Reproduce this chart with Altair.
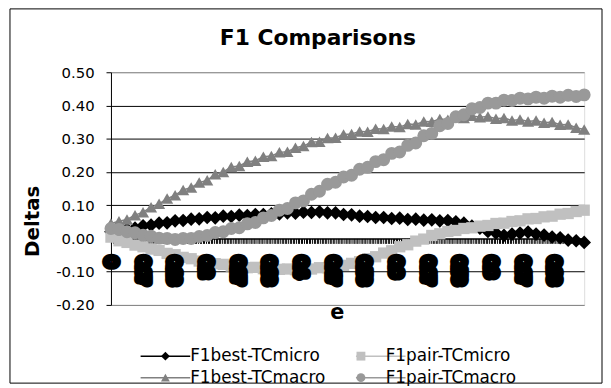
import altair as alt
import numpy as np
import pandas as pd

# ---------------- data ----------------
series_names = ["F1best-TCmicro", "F1pair-TCmicro", "F1best-TCmacro", "F1pair-TCmacro"]

best_micro = [0.020, 0.023, 0.028, 0.031, 0.038, 0.040, 0.046, 0.047, 0.053, 0.054,
              0.058, 0.059, 0.063, 0.062, 0.067, 0.066, 0.070, 0.069, 0.072, 0.072,
              0.074, 0.074, 0.077, 0.076, 0.079, 0.078, 0.080, 0.077, 0.077, 0.072,
              0.071, 0.067, 0.066, 0.063, 0.063, 0.060, 0.061, 0.057, 0.058, 0.055,
              0.056, 0.053, 0.054, 0.050, 0.046, 0.037, 0.031, 0.021, 0.016, 0.009,
              0.013, 0.016, 0.019, 0.013, 0.010, 0.004, 0.002, -0.005, -0.007, -0.012]

pair_micro = [0.004, -0.007, -0.012, -0.020, -0.025, -0.032, -0.036, -0.045, -0.049, -0.057,
              -0.061, -0.068, -0.070, -0.076, -0.078, -0.083, -0.083, -0.088, -0.087, -0.091,
              -0.090, -0.093, -0.092, -0.094, -0.091, -0.092, -0.088, -0.088, -0.083, -0.081,
              -0.075, -0.070, -0.061, -0.055, -0.044, -0.037, -0.025, -0.019, -0.008, -0.002,
              0.009, 0.014, 0.021, 0.024, 0.030, 0.032, 0.037, 0.039, 0.045, 0.046,
              0.051, 0.053, 0.059, 0.060, 0.065, 0.067, 0.073, 0.075, 0.081, 0.085]

best_macro = [0.045, 0.052, 0.057, 0.070, 0.079, 0.094, 0.104, 0.120, 0.130, 0.146,
              0.153, 0.168, 0.175, 0.193, 0.200, 0.215, 0.218, 0.231, 0.234, 0.246,
              0.248, 0.259, 0.261, 0.273, 0.278, 0.290, 0.291, 0.302, 0.303, 0.313,
              0.314, 0.322, 0.321, 0.330, 0.329, 0.337, 0.335, 0.344, 0.343, 0.352,
              0.351, 0.359, 0.357, 0.365, 0.362, 0.369, 0.365, 0.367, 0.360, 0.362,
              0.355, 0.358, 0.352, 0.355, 0.348, 0.350, 0.342, 0.343, 0.333, 0.328]

pair_macro = [0.030, 0.027, 0.020, 0.017, 0.010, 0.007, 0.001, 0.000, -0.003, 0.000,
              0.000, 0.006, 0.009, 0.018, 0.020, 0.030, 0.032, 0.044, 0.048, 0.062,
              0.069, 0.085, 0.090, 0.107, 0.113, 0.133, 0.142, 0.163, 0.169, 0.185,
              0.190, 0.208, 0.214, 0.231, 0.237, 0.256, 0.260, 0.280, 0.287, 0.309,
              0.316, 0.339, 0.346, 0.366, 0.372, 0.390, 0.394, 0.407, 0.407, 0.416,
              0.415, 0.422, 0.420, 0.425, 0.422, 0.428, 0.425, 0.431, 0.427, 0.432]

n_categories = 300
tick_label_idx = [0, 20, 40, 60, 80, 100, 120, 140, 160, 180, 200, 220, 240, 260, 280]
tick_labels = ["0", "0.07", "0.13", "0.2", "0.27", "0.33", "0.4", "0.47",
               "0.53", "0.6", "0.67", "0.73", "0.8", "0.87", "0.93"]
y_ticks = [-0.2, -0.1, 0.0, 0.1, 0.2, 0.3, 0.4, 0.5]

# ---------------- styles ----------------
colors = ["#000000", "#C0C0C0", "#808080", "#999999"]
shapes = ["diamond", "square", "triangle-up", "circle"]
sizes = [150, 130, 190, 230]

W, H = 478, 235
FONT = "DejaVu Sans"

# ---------------- table ----------------
pos = np.linspace(0, n_categories - 1, len(best_micro))
rows = []
for name, vals in zip(series_names, [best_micro, pair_micro, best_macro, pair_macro]):
    for p, v in zip(pos, vals):
        rows.append({"idx": float(p), "value": v, "series": name})
df = pd.DataFrame(rows)
lab_df = pd.DataFrame({"idx": tick_label_idx, "label": tick_labels})

# common legend layout (two legends drawn on top of each other:
# one gives the line segment, the other the marker and the label)
LEG = dict(title=None, orient="none", legendX=46.5, legendY=278, columns=2,
           direction="horizontal", columnPadding=26.5, rowPadding=4, symbolSize=80,
           labelFont=FONT, labelFontSize=17, labelColor="black", labelOffset=16.5,
           padding=0, values=series_names)

legend_markers = alt.Legend(**LEG, symbolStrokeWidth=0, symbolOpacity=1)
legend_lines = alt.Legend(**LEG, symbolType="M-5.6,0H5.6", symbolStrokeWidth=1.5,
                          symbolOpacity=1, labelOpacity=0)

xscale = alt.Scale(domain=[0, n_categories - 1], nice=False, zero=False)
yscale = alt.Scale(domain=[-0.2, 0.5], nice=False, zero=False)

xaxis = alt.Axis(
    values=list(range(n_categories)), labels=False, tickSize=5, tickColor="black",
    tickWidth=1, domainColor="black", domainWidth=1, grid=False,
    offset=-(H * 2 / 7), title="e", titleFont=FONT, titleFontSize=21,
    titleFontWeight="bold", titleColor="black", titleX=228, titleY=81,
    titleAlign="center", titleBaseline="alphabetic",
)
yaxis = alt.Axis(
    values=y_ticks,
    labelExpr="datum.value < -0.0001 ? '-' + format(-datum.value, '.2f') : format(abs(datum.value), '.2f')",
    labelFont=FONT, labelFontSize=15, labelColor="black", tickSize=5,
    tickColor="black", domainColor="black", labelPadding=12, grid=True,
    gridColor=alt.condition("abs(datum.value - 0.5) < 0.0001 || abs(datum.value + 0.2) < 0.0001",
                            alt.value("#808080"), alt.value("black")),
    gridWidth=1, title="Deltas", titleFont=FONT, titleFontSize=20,
    titleFontWeight="bold", titleColor="black", titleAngle=270, titleX=-73,
    titleY=150, titleAlign="center", titleBaseline="alphabetic",
)

X = alt.X("idx:Q", scale=xscale, axis=xaxis)
Y = alt.Y("value:Q", scale=yscale, axis=yaxis)

frame = alt.Chart(pd.DataFrame({"f": [0]})).mark_rect(
    fill="transparent", stroke="black", strokeWidth=1
).encode(x=alt.value(-102), x2=alt.value(496), y=alt.value(-64), y2=alt.value(314))

# the line scale lists the same series in reverse, so its legend stays separate
lines = alt.Chart(df).mark_line(strokeWidth=1.5).encode(
    x=X, y=Y,
    stroke=alt.Stroke("series:N", scale=alt.Scale(domain=series_names[::-1], range=colors[::-1]),
                      legend=legend_lines),
    detail="series:N",
)

points = alt.Chart(df).mark_point(filled=True, opacity=1).encode(
    x=X, y=Y,
    color=alt.Color("series:N", scale=alt.Scale(domain=series_names, range=colors),
                    legend=legend_markers),
    shape=alt.Shape("series:N", scale=alt.Scale(domain=series_names, range=shapes),
                    legend=legend_markers),
    size=alt.Size("series:N", scale=alt.Scale(domain=series_names[1:] + series_names[:1],
                                              range=sizes[1:] + sizes[:1]), legend=None),
)

labels = alt.Chart(lab_df).mark_text(
    angle=90, align="left", baseline="middle", dx=20, font="Liberation Sans",
    fontSize=13, fontWeight="bold", fill="black", stroke="black", strokeWidth=10,
    strokeJoin="round",
).encode(
    x=X, y=alt.YDatum(0, scale=yscale, axis=yaxis), text="label:N"
)

chart = alt.layer(frame, lines, points, labels).properties(
    width=W, height=H,
    title=alt.TitleParams("F1 Comparisons", font=FONT, fontSize=22, fontWeight="bold",
                          color="black", anchor="middle", frame="group", dx=-30,
                          offset=0, dy=59, baseline="alphabetic"),
    padding={"left": 104, "top": 63, "right": 19, "bottom": 80},
    autosize=alt.AutoSizeParams(type="none"),
).configure_view(stroke="#808080", strokeWidth=1).configure(background="white")

chart.save("out.html", embed_options={"renderer": "svg", "actions": False})
